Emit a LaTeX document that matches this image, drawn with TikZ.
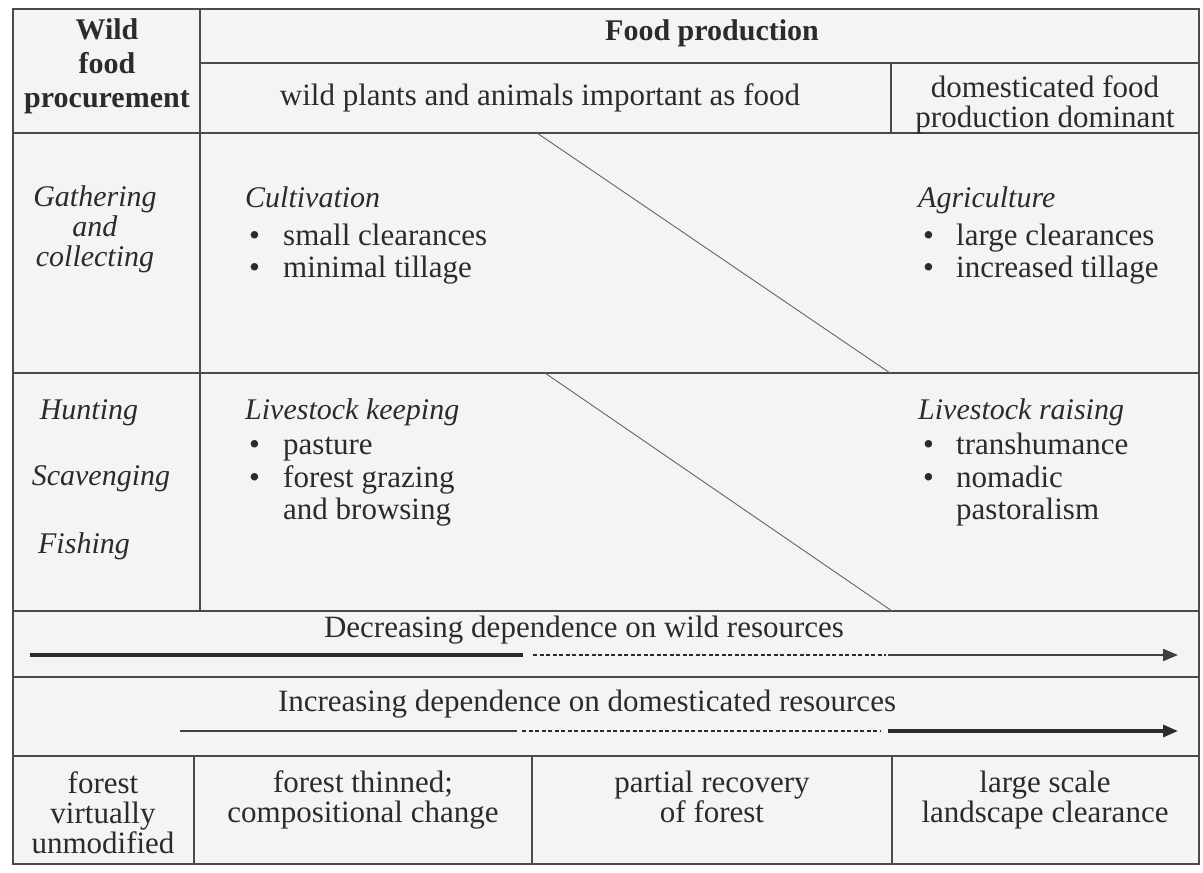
\documentclass[tikz,border=0pt]{standalone}
\usepackage{fontspec}
\setmainfont{Liberation Serif}
\usetikzlibrary{arrows.meta}
\definecolor{ink}{HTML}{2B2B2B}
\definecolor{rulec}{HTML}{4A4A4A}
\definecolor{paper}{HTML}{F4F4F4}
\tikzset{
 rulel/.style={draw=rulec, line width=1.4pt},
 diag/.style={draw=rulec!85, line width=0.9pt},
 txt/.style={text=ink, inner sep=0pt, font=\fontsize{31}{30}\selectfont, align=center},
 itx/.style={txt, font=\fontsize{30}{30}\selectfont\itshape},
 lft/.style={text=ink, inner sep=0pt, font=\fontsize{31}{30}\selectfont, anchor=base west},
 lfti/.style={lft, font=\fontsize{30}{30}\selectfont\itshape},
 head/.style={txt, font=\fontsize{30}{33}\selectfont\bfseries},
 thickarr/.style={draw=ink, line width=3.2pt},
 thinarr/.style={draw=ink!90, line width=2.2pt},
 dasharr/.style={draw=ink, line width=2pt, dash pattern=on 4pt off 2.5pt},
 tip/.style={-{Triangle[length=15pt,width=12pt]}},
}
\begin{document}
\begin{tikzpicture}[x=1pt,y=-1pt]
\useasboundingbox (0,0) rectangle (1203,873);
% table frame
\fill[paper] (13,9) rectangle (1199,864);
\draw[rulel] (13,9) rectangle (1199,864);
\draw[rulel] (200,9) -- (200,611);
\draw[rulel] (200,63) -- (1199,63);
\draw[rulel] (891,63) -- (891,133);
\draw[rulel] (13,133) -- (1199,133);
\draw[rulel] (13,373) -- (1199,373);
\draw[rulel] (13,611) -- (1199,611);
\draw[rulel] (13,677) -- (1199,677);
\draw[rulel] (13,756) -- (1199,756);
\draw[rulel] (194,756) -- (194,864);
\draw[rulel] (532,756) -- (532,864);
\draw[rulel] (892,756) -- (892,864);
% diagonals
\coordinate (d1a) at (537,133);
\coordinate (d1b) at (890,373);
\coordinate (d2a) at (545,373);
\coordinate (d2b) at (892,611);
\draw[diag] (d1a) -- (d1b);
\draw[diag] (d2a) -- (d2b);
% header
\node[head] (wild) at (107,66) {Wild\\[1pt]food\\[1pt]procurement};
\node[head] (fp) at (712,33) {Food production};
\node[txt] (wpa) at (540,98) {wild plants and animals important as food};
\node[txt] (dfp) at (1045,105) {domesticated food\\production dominant};
% row 1
\node[itx] (gath) at (95,229) {Gathering\\and\\collecting};
\node[lfti] (cult) at (245,207) {Cultivation};
\node[lft] (cb1) at (249,245) {•};
\node[lft] (ct1) at (283,245) {small clearances};
\node[lft] (cb2) at (249,277) {•};
\node[lft] (ct2) at (283,277) {minimal tillage};
\node[lfti] (agri) at (918,207) {Agriculture};
\node[lft] (ab1) at (923,245) {•};
\node[lft] (at1) at (956,245) {large clearances};
\node[lft] (ab2) at (923,277) {•};
\node[lft] (at2) at (956,277) {increased tillage};
% row 2
\node[itx] (hunt) at (89,413) {Hunting};
\node[itx] (scav) at (101,479) {Scavenging};
\node[itx] (fish) at (84,546) {Fishing};
\node[lfti] (lk) at (245,419) {Livestock keeping};
\node[lft] (lb1) at (249,454) {•};
\node[lft] (lt1) at (283,454) {pasture};
\node[lft] (lb2) at (249,487) {•};
\node[lft] (lt2) at (283,487) {forest grazing};
\node[lft] (lt3) at (283,519) {and browsing};
\node[lfti] (lr) at (918,419) {Livestock raising};
\node[lft] (rb1) at (923,454) {•};
\node[lft] (rt1) at (956,454) {transhumance};
\node[lft] (rb2) at (923,487) {•};
\node[lft] (rt2) at (956,487) {nomadic};
\node[lft] (rt3) at (956,519) {pastoralism};
% dependence rows
\node[txt] (dec) at (584,630) {Decreasing dependence on wild resources};
\coordinate (a1s) at (30,655);
\coordinate (a1m) at (523,655);
\coordinate (a1n) at (533,655);
\coordinate (a1o) at (886,655);
\coordinate (a1p) at (888,655);
\coordinate (a1e) at (1178,655);
\draw[thickarr] (a1s) -- (a1m);
\draw[dasharr] (a1n) -- (a1o);
\draw[thinarr, tip] (a1p) -- (a1e);
\node[txt] (inc) at (587,704) {Increasing dependence on domesticated resources};
\coordinate (a2s) at (180,731);
\coordinate (a2m) at (517,731);
\coordinate (a2n) at (522,731);
\coordinate (a2o) at (880,731);
\coordinate (a2p) at (888,731);
\coordinate (a2e) at (1178,731);
\draw[thinarr] (a2s) -- (a2m);
\draw[dasharr] (a2n) -- (a2o);
\draw[thickarr, tip] (a2p) -- (a2e);
% bottom row
\node[txt] (fvu) at (103,813) {forest\\virtually\\unmodified};
\node[txt] (ftc) at (363,800) {forest thinned;\\compositional change};
\node[txt] (prf) at (712,797) {partial recovery\\of forest};
\node[txt] (lsc) at (1045,800) {large scale\\landscape clearance};
\end{tikzpicture}
\end{document}
